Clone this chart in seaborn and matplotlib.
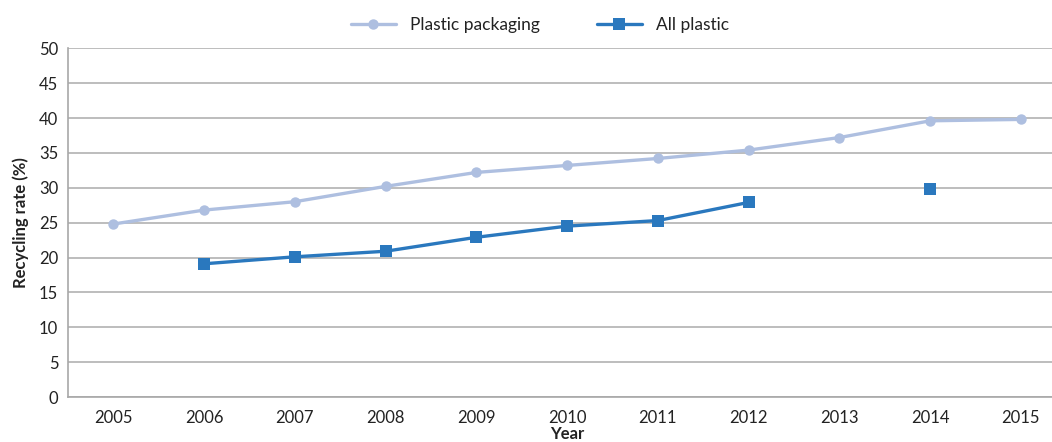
import numpy as np
import pandas as pd
import matplotlib
matplotlib.use("Agg")
import matplotlib.pyplot as plt
import seaborn as sns

years = [2005, 2006, 2007, 2008, 2009, 2010, 2011, 2012, 2013, 2014, 2015]
packaging = [24.8, 26.8, 28.0, 30.2, 32.2, 33.2, 34.2, 35.4, 37.2, 39.6, 39.8]
all_plastic = [np.nan, 19.1, 20.1, 20.9, 22.9, 24.5, 25.3, 27.9, np.nan, 29.8, np.nan]
y_ticks = [0, 5, 10, 15, 20, 25, 30, 35, 40, 45, 50]

sns.set_theme(style="white")
plt.rcParams["font.family"] = ["Lato", "DejaVu Sans"]

c_pack = "#aebfe0"
c_all = "#2a78be"
grid_c = "#bdbdbd"
txt_c = "#222222"

fig = plt.figure(figsize=(10.52, 4.42), dpi=100)
ax = fig.add_axes([0.0646, 0.1018, 0.949, 0.789])

x = np.arange(len(years))
df_pack = pd.DataFrame({"x": x, "rate": packaging})
sns.lineplot(data=df_pack, x="x", y="rate", ax=ax, color=c_pack, linewidth=2.4,
             marker="o", markersize=7.5, markeredgewidth=0, label="Plastic packaging")

# split the series where a year is missing so the gap stays visible
df_all = pd.DataFrame({"x": x, "rate": all_plastic})
df_all["seg"] = df_all["rate"].isna().cumsum()
df_all = df_all.dropna()
sns.lineplot(data=df_all, x="x", y="rate", units="seg", estimator=None, ax=ax,
             color=c_all, linewidth=2.4, marker="s", markersize=8.5,
             markeredgewidth=0, label="All plastic")

ax.set_xlim(-0.5, len(years) - 0.5)
ax.set_ylim(0, 50)
ax.set_yticks(y_ticks)
ax.set_xticks(x)
ax.set_xticklabels([str(y) for y in years])
ax.yaxis.grid(True, color=grid_c, linewidth=1.4)
ax.set_axisbelow(True)
for s in ["top", "right"]:
    ax.spines[s].set_visible(False)
for s in ["left", "bottom"]:
    ax.spines[s].set_color("#a8a8a8")
    ax.spines[s].set_linewidth(1.2)
ax.tick_params(axis="both", length=0, labelsize=12, colors=txt_c)
ax.tick_params(axis="y", pad=7)
ax.tick_params(axis="x", pad=9)

ax.set_xlabel("Year", fontsize=12, fontweight="bold", color=txt_c, labelpad=0)
ax.set_ylabel("Recycling rate (%)", fontsize=12, fontweight="bold", color=txt_c, labelpad=7)

handles, labels = ax.get_legend_handles_labels()
ax.get_legend().remove()
fig.legend(handles[:2], labels[:2], loc="center", bbox_to_anchor=(0.513, 0.943),
           ncol=2, frameon=False, fontsize=12.5, handlelength=2.6, handletextpad=0.8,
           columnspacing=3.3, labelcolor=txt_c)

fig.savefig("out.png", dpi=100)
